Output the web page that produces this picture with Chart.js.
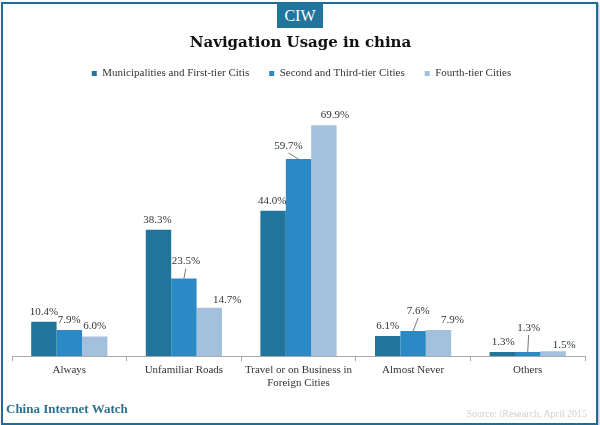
<!DOCTYPE html>
<html>
<head>
<meta charset="utf-8">
<script src="https://cdn.jsdelivr.net/npm/chart.js@4"></script>
<style>
html, body { margin: 0; padding: 0; background: #fff; }
#wrap { position: relative; width: 600px; height: 425px; overflow: hidden; }
#frame { position: absolute; left: 1px; top: 2px; width: 593px; height: 419px; border: 2px solid #1f6c97; box-shadow: 1px 1px 2px #9db4c2; }
#logo { position: absolute; left: 277px; top: 3px; width: 46px; height: 25px; background: #23749c; color: #fff; text-align: center; font: 16px/25px "Liberation Serif", serif; }
#brand { position: absolute; left: 6px; top: 401px; color: #2a7192; font: bold 13px "Liberation Serif", serif; }
#source { position: absolute; right: 13px; top: 408px; color: #cfcfcf; font: 10px "Liberation Serif", serif; }
canvas { position: absolute; left: 0; top: 0; }
</style>
</head>
<body>
<div id="wrap">
  <canvas id="usageChart" width="600" height="425"></canvas>
  <div id="frame"></div>
  <div id="logo">CIW</div>
  <div id="brand">China Internet Watch</div>
  <div id="source">Source: iResearch, April 2015</div>
</div>
<script>
const categories = ['Always', 'Unfamiliar Roads', ['Travel or on Business in', 'Foreign Cities'], 'Almost Never', 'Others'];
const seriesNames = ['Municipalities and First-tier Citis', 'Second and Third-tier Cities', 'Fourth-tier Cities'];
const firstTier = [10.4, 38.3, 44.0, 6.1, 1.3];
const secondTier = [7.9, 23.5, 59.7, 7.6, 1.3];
const fourthTier = [6.0, 14.7, 69.9, 7.9, 1.5];

// manual label nudges from the bar top, [dx, dy], same shape as the series
const labelNudge = [
    [[0, -10], [-1, -10], [-1, -10], [0, -10], [1, -10]],
    [[0, -10], [2, -17], [-10, -13], [5, -20], [1, -24]],
    [[0, -10], [18, -8], [11, -10], [14, -10], [11, -6]]
];
// which labels get a little leader line back to the bar
const leaders = [[1, 1], [1, 2], [1, 3], [1, 4]];

const serif = '"Liberation Serif", serif';

const barLabels = {
    id: 'barLabels',
    // title and legend sit a bit right of the plot centre in the original
    afterLayout(chart) {
        chart.legend.left += 3;
        chart.legend.right += 3;
        chart.titleBlock.left += 2;
        chart.titleBlock.right += 2;
    },
    afterDatasetsDraw(chart) {
        const c = chart.ctx;
        c.save();
        c.font = '11px ' + serif;
        c.textAlign = 'center';
        c.textBaseline = 'middle';
        c.fillStyle = '#333';
        chart.data.datasets.forEach((ds, i) => {
            chart.getDatasetMeta(i).data.forEach((bar, j) => {
                const n = labelNudge[i][j];
                c.fillText(ds.data[j].toFixed(1) + '%', bar.x + n[0], bar.y + n[1]);
            });
        });
        c.strokeStyle = '#555';
        c.lineWidth = 0.8;
        leaders.forEach(([i, j]) => {
            const bar = chart.getDatasetMeta(i).data[j];
            const n = labelNudge[i][j];
            c.beginPath();
            c.moveTo(bar.x + n[0], bar.y + n[1] + 7);
            c.lineTo(bar.x, bar.y);
            c.stroke();
        });
        c.restore();
    }
};

const ctx = document.getElementById('usageChart').getContext('2d');
new Chart(ctx, {
    type: 'bar',
    data: {
        labels: categories,
        datasets: [
            { label: seriesNames[0], data: firstTier, backgroundColor: '#21759b' },
            { label: seriesNames[1], data: secondTier, backgroundColor: '#2b8ac6' },
            { label: seriesNames[2], data: fourthTier, backgroundColor: '#a3c0dd' }
        ]
    },
    options: {
        responsive: false,
        animation: false,
        barPercentage: 1,
        categoryPercentage: 0.665,
        layout: { padding: { left: 12, right: 15, top: 34, bottom: 32.5 } },
        plugins: {
            title: {
                display: true,
                text: 'Navigation Usage in china',
                color: '#111',
                font: { family: '"DejaVu Serif", serif', size: 15, weight: 'bold' },
                padding: { top: 0, bottom: -4 }
            },
            legend: {
                position: 'top',
                labels: {
                    boxWidth: 5,
                    boxHeight: 5,
                    padding: 20,
                    color: '#333',
                    font: { family: serif, size: 11 }
                }
            },
            tooltip: { enabled: false }
        },
        scales: {
            x: {
                grid: { offset: true, drawOnChartArea: false, tickLength: 5, color: '#aaa' },
                border: { color: '#aaa' },
                ticks: { color: '#333', font: { family: serif, size: 11, lineHeight: 1.15 }, maxRotation: 0, autoSkip: false, padding: 3 }
            },
            y: { display: false, min: 0, max: 80.9 }
        }
    },
    plugins: [barLabels]
});
</script>
</body>
</html>
